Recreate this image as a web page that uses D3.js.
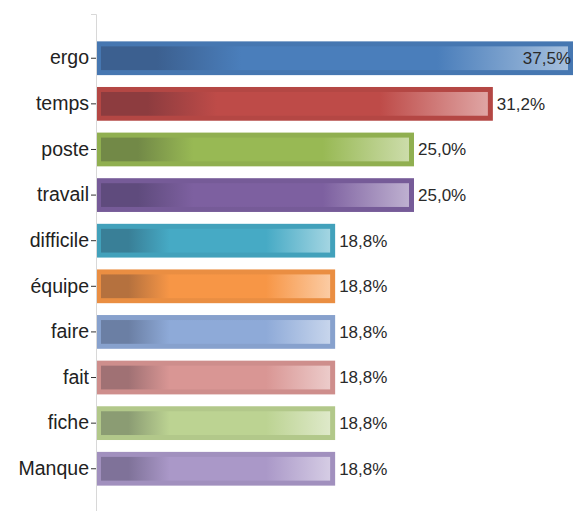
<!DOCTYPE html>
<html>
<head>
<meta charset="utf-8">
<script src="https://cdn.jsdelivr.net/npm/d3@7"></script>
<style>
html,body{margin:0;padding:0;background:#fff;}
svg{display:block;}
</style>
</head>
<body>
<svg id="chart" width="575" height="511"></svg>
<script>
const categories = ["ergo","temps","poste","travail","difficile","équipe","faire","fait","fiche","Manque"];
const values = [37.5, 31.2, 25.0, 25.0, 18.8, 18.8, 18.8, 18.8, 18.8, 18.8];
const valueLabels = ["37,5%","31,2%","25,0%","25,0%","18,8%","18,8%","18,8%","18,8%","18,8%","18,8%"];
const colors = ["#4a7ebb","#be4b48","#98b954","#7d60a0","#46aac5","#f79646","#8eaad8","#d99694","#bcd392","#aa98c8"];

const svg = d3.select("#chart");
const x = d3.scaleLinear().domain([0, 37.5]).range([96, 573]);
const y = d3.scaleBand().domain(categories).range([14, 513]).paddingInner(0.26).paddingOuter(0.6);

const defs = svg.append("defs");
colors.forEach((c, i) => {
  const base = d3.color(c);
  const dark = d3.interpolateRgb(c, "#1a1a2a")(0.3);
  const light = d3.interpolateRgb(c, "#ffffff")(0.5);
  const g = defs.append("linearGradient").attr("id", "g" + i).attr("x1", "0%").attr("x2", "100%");
  g.append("stop").attr("offset", "0%").attr("stop-color", dark);
  g.append("stop").attr("offset", "12%").attr("stop-color", dark);
  g.append("stop").attr("offset", "30%").attr("stop-color", base.formatHex());
  g.append("stop").attr("offset", "72%").attr("stop-color", base.formatHex());
  g.append("stop").attr("offset", "100%").attr("stop-color", light);
});

const bw = 5;
const bars = svg.append("g").selectAll("g").data(categories).join("g");
bars.append("rect")
  .attr("x", x(0))
  .attr("y", d => y(d))
  .attr("width", (d, i) => x(values[i]) - x(0))
  .attr("height", y.bandwidth())
  .attr("fill", (d, i) => d3.color(colors[i]).darker(0.15).formatHex());
bars.append("rect")
  .attr("x", x(0) + bw)
  .attr("y", d => y(d) + bw)
  .attr("width", (d, i) => x(values[i]) - x(0) - 2 * bw)
  .attr("height", y.bandwidth() - 2 * bw)
  .attr("fill", (d, i) => `url(#g${i})`);

svg.append("g").selectAll("text").data(categories).join("text")
  .attr("x", (d, i) => i === 0 ? x(values[i]) - 2 : x(values[i]) + 4)
  .attr("y", d => y(d) + y.bandwidth() / 2)
  .attr("dy", "0.35em")
  .attr("text-anchor", (d, i) => i === 0 ? "end" : "start")
  .attr("font-family", "Liberation Sans, Arial, sans-serif")
  .attr("font-size", 17)
  .attr("fill", "#2a2a2a")
  .text((d, i) => valueLabels[i]);

const axis = svg.append("g").attr("transform", `translate(${x(0)},0)`)
  .call(d3.axisLeft(y).tickSize(5).tickSizeOuter(5).tickPadding(2));
axis.select(".domain").attr("stroke", "#d8d8d8");
axis.selectAll(".tick line").attr("stroke", "#333");
axis.selectAll(".tick text").attr("font-family", "Liberation Sans, Arial, sans-serif").attr("font-size", 19.5).attr("fill", "#222");
</script>
</body>
</html>
